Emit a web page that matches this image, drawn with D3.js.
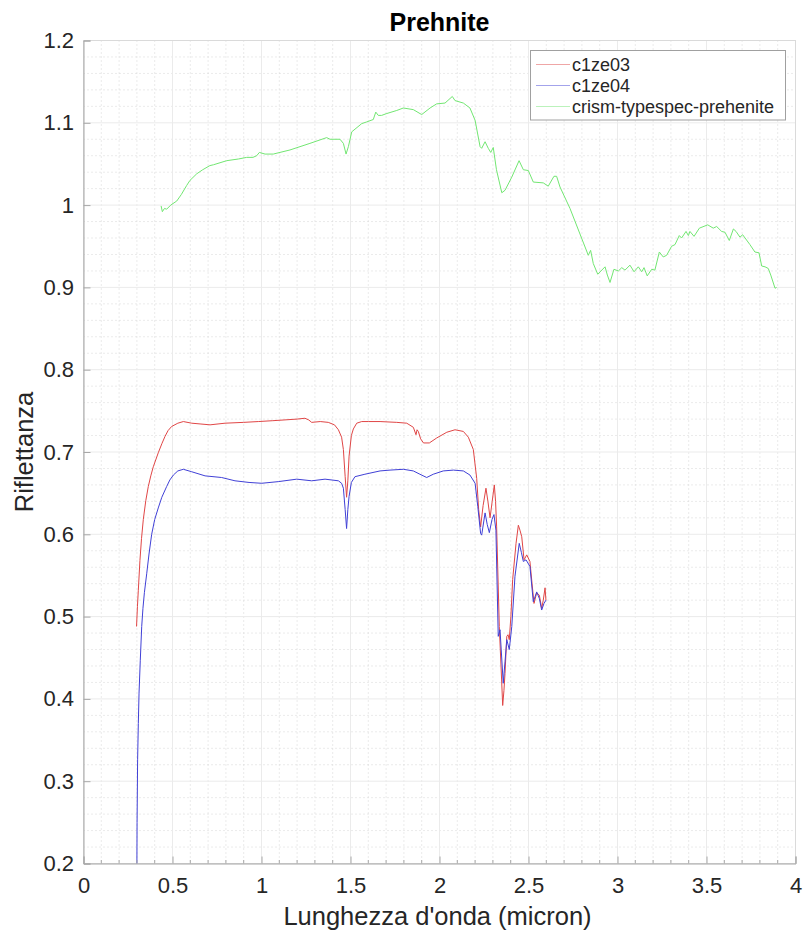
<!DOCTYPE html>
<html>
<head>
<meta charset="utf-8">
<script src="https://cdn.jsdelivr.net/npm/d3@7"></script>
<style>
  body { margin: 0; background: #fff; }
  svg { display: block; font-family: "Liberation Sans", Arial, Helvetica, sans-serif; }
</style>
</head>
<body>
<svg id="chart" width="806" height="935"></svg>
<script>
//// DATA (wavelength in micron, reflectance)

const c1ze03 = [
  [0.298,0.488],[0.303,0.512],[0.308,0.532],[0.317,0.568],[0.326,0.595],[0.336,0.618],[0.35,0.641],
  [0.364,0.658],[0.378,0.671],[0.392,0.682],[0.42,0.699],[0.44,0.710],
  [0.458,0.719],[0.475,0.726],[0.495,0.731],[0.53,0.735],[0.561,0.737],[0.608,0.735],[0.66,0.734],[0.711,0.733],
  [0.795,0.735],[0.9,0.736],[0.982,0.737],[1.06,0.738],[1.132,0.739],[1.2,0.740],[1.244,0.741],
  [1.265,0.739],[1.282,0.736],[1.33,0.737],[1.375,0.736],[1.41,0.733],[1.432,0.727],[1.45,0.718],
  [1.46,0.703],[1.47,0.67],[1.478,0.645],[1.485,0.665],[1.492,0.695],[1.505,0.72],[1.516,0.728],
  [1.535,0.735],[1.563,0.737],[1.6,0.737],[1.666,0.737],[1.76,0.736],[1.816,0.735],[1.853,0.730],
  [1.868,0.721],[1.874,0.727],[1.881,0.725],[1.894,0.716],[1.91,0.711],[1.943,0.711],[1.984,0.717],
  [2.041,0.724],[2.087,0.727],[2.134,0.725],[2.162,0.718],[2.19,0.703],[2.209,0.668],[2.22,0.63],
  [2.231,0.609],[2.245,0.635],[2.261,0.656],[2.272,0.64],[2.284,0.620],[2.296,0.64],[2.308,0.660],
  [2.315,0.64],[2.321,0.609],[2.336,0.488],[2.349,0.423],[2.355,0.392],[2.362,0.41],[2.368,0.431],
  [2.378,0.476],[2.385,0.478],[2.392,0.472],[2.401,0.50],[2.411,0.545],[2.43,0.589],[2.443,0.611],
  [2.452,0.605],[2.462,0.597],[2.475,0.569],[2.49,0.575],[2.508,0.567],[2.52,0.54],[2.531,0.516],
  [2.546,0.529],[2.561,0.526],[2.574,0.51],[2.583,0.52],[2.593,0.535],[2.598,0.52]
]

const c1ze04 = [
  [0.299,0.15],[0.301,0.25],[0.304,0.326],[0.308,0.37],[0.312,0.407],[0.319,0.447],[0.327,0.488],
  [0.334,0.51],[0.342,0.529],[0.355,0.552],[0.368,0.576],[0.383,0.600],[0.40,0.618],[0.42,0.632],
  [0.44,0.645],[0.467,0.658],[0.485,0.666],[0.505,0.672],[0.53,0.677],[0.561,0.679],[0.608,0.676],[0.683,0.671],
  [0.776,0.669],[0.851,0.665],[0.93,0.663],[1.001,0.662],[1.094,0.664],[1.198,0.667],[1.282,0.665],
  [1.357,0.667],[1.432,0.665],[1.45,0.662],[1.46,0.656],[1.47,0.63],[1.478,0.607],[1.485,0.63],
  [1.492,0.646],[1.505,0.663],[1.525,0.670],[1.581,0.673],[1.666,0.677],[1.722,0.678],[1.797,0.679],
  [1.853,0.677],[1.890,0.673],[1.928,0.669],[1.965,0.673],[2.021,0.677],[2.078,0.678],[2.134,0.677],
  [2.171,0.672],[2.2,0.662],[2.215,0.634],[2.231,0.601],[2.237,0.599],[2.256,0.626],[2.268,0.612],
  [2.28,0.602],[2.295,0.618],[2.306,0.624],[2.317,0.605],[2.33,0.476],[2.34,0.484],[2.358,0.419],
  [2.368,0.445],[2.378,0.472],[2.392,0.46],[2.406,0.488],[2.424,0.549],[2.448,0.589],[2.46,0.578],
  [2.471,0.567],[2.486,0.569],[2.508,0.561],[2.527,0.518],[2.546,0.530],[2.561,0.522],[2.574,0.508],
  [2.587,0.516],[2.598,0.52]
]

const crismPrehenite = [
  [0.436,0.999],[0.443,0.992],[0.455,0.996],[0.467,0.995],[0.49,1.0],[0.524,1.005],[0.55,1.013],
  [0.58,1.024],[0.598,1.03],[0.636,1.038],[0.67,1.043],[0.71,1.048],[0.73,1.049],[0.805,1.054],
  [0.87,1.056],[0.917,1.058],[0.952,1.058],[0.973,1.06],[0.988,1.064],[1.02,1.062],[1.066,1.062],
  [1.16,1.067],[1.272,1.075],[1.366,1.082],[1.385,1.080],[1.441,1.08],[1.46,1.075],[1.475,1.062],
  [1.488,1.071],[1.507,1.089],[1.563,1.099],[1.59,1.101],[1.628,1.104],[1.642,1.113],[1.656,1.109],
  [1.675,1.109],[1.70,1.111],[1.76,1.115],[1.797,1.118],[1.853,1.116],[1.90,1.110],[1.947,1.118],
  [1.984,1.123],[2.031,1.124],[2.072,1.132],[2.087,1.127],[2.134,1.124],[2.171,1.118],[2.2,1.103],
  [2.228,1.071],[2.237,1.069],[2.256,1.077],[2.274,1.069],[2.288,1.064],[2.302,1.07],[2.32,1.043],
  [2.35,1.015],[2.368,1.018],[2.406,1.034],[2.447,1.054],[2.471,1.043],[2.499,1.042],[2.527,1.028],
  [2.583,1.027],[2.611,1.023],[2.643,1.035],[2.658,1.035],[2.677,1.022],[2.733,0.996],[2.836,0.939],
  [2.849,0.945],[2.864,0.929],[2.889,0.916],[2.93,0.925],[2.943,0.915],[2.958,0.906],[2.98,0.922],
  [3.005,0.920],[3.024,0.924],[3.042,0.921],[3.07,0.927],[3.093,0.919],[3.117,0.925],[3.136,0.919],
  [3.149,0.924],[3.167,0.914],[3.192,0.922],[3.21,0.921],[3.235,0.943],[3.257,0.937],[3.276,0.939],
  [3.304,0.950],[3.323,0.952],[3.347,0.963],[3.36,0.960],[3.385,0.968],[3.398,0.963],[3.407,0.968],
  [3.43,0.962],[3.46,0.972],[3.507,0.976],[3.538,0.972],[3.557,0.974],[3.585,0.968],[3.604,0.967],
  [3.628,0.957],[3.651,0.971],[3.666,0.968],[3.688,0.961],[3.703,0.964],[3.744,0.952],[3.772,0.943],
  [3.795,0.942],[3.81,0.926],[3.829,0.925],[3.847,0.923],[3.861,0.915],[3.885,0.899],[3.894,0.900]
]

const seriesNames = ["c1ze03", "c1ze04", "crism-typespec-prehenite"]
const seriesColors = ["#e04646", "#4040d6", "#72e672"]
const seriesData = [c1ze03, c1ze04, crismPrehenite]

const xTicks = [0, 0.5, 1, 1.5, 2, 2.5, 3, 3.5, 4]
const yTicks = [0.2, 0.3, 0.4, 0.5, 0.6, 0.7, 0.8, 0.9, 1, 1.1, 1.2]

//// LAYOUT

const svg = d3.select("#chart")
const plotLeft = 83.5, plotRight = 795.5, plotTop = 40.5, plotBottom = 863.5
const textColor = "#262626"

const x = d3.scaleLinear().domain([0, 4]).range([plotLeft, plotRight])
const y = d3.scaleLinear().domain([0.2, 1.2]).range([plotBottom, plotTop])

const fmt = d => String(+d.toFixed(2))

// minor grid (dotted)
const xMinor = d3.range(0, 41).map(i => +(i / 10).toFixed(1)).filter(v => !xTicks.includes(v))
const yMinor = d3.range(10, 61).map(i => +(i * 0.02).toFixed(2)).filter(v => !yTicks.some(t => Math.abs(t - v) < 1e-6))

const grid = svg.append("g")
grid.selectAll(".xminor").data(xMinor).join("line")
  .attr("x1", d => x(d)).attr("x2", d => x(d))
  .attr("y1", plotTop).attr("y2", plotBottom)
  .attr("stroke", "#d6d6d6").attr("stroke-dasharray", "1,3")
grid.selectAll(".yminor").data(yMinor).join("line")
  .attr("x1", plotLeft).attr("x2", plotRight)
  .attr("y1", d => y(d)).attr("y2", d => y(d))
  .attr("stroke", "#d6d6d6").attr("stroke-dasharray", "1,3")

// major grid (solid)
grid.selectAll(".xmajor").data(xTicks).join("line")
  .attr("x1", d => x(d)).attr("x2", d => x(d))
  .attr("y1", plotTop).attr("y2", plotBottom)
  .attr("stroke", "#ebebeb")
grid.selectAll(".ymajor").data(yTicks).join("line")
  .attr("x1", plotLeft).attr("x2", plotRight)
  .attr("y1", d => y(d)).attr("y2", d => y(d))
  .attr("stroke", "#ebebeb")

// light box round the plot
svg.append("rect")
  .attr("x", plotLeft).attr("y", plotTop)
  .attr("width", plotRight - plotLeft).attr("height", plotBottom - plotTop)
  .attr("fill", "none").attr("stroke", "#dadada")

//// CURVES

svg.append("clipPath").attr("id", "plot-clip")
  .append("rect")
  .attr("x", plotLeft).attr("y", plotTop)
  .attr("width", plotRight - plotLeft).attr("height", plotBottom - plotTop)

const line = d3.line().x(d => x(d[0])).y(d => y(d[1]))

svg.append("g")
  .attr("clip-path", "url(#plot-clip)")
  .selectAll(".curve")
  .data(seriesData)
  .join("path")
  .attr("class", "curve")
  .attr("d", line)
  .attr("fill", "none")
  .attr("stroke", (d, i) => seriesColors[i])
  .attr("stroke-width", 1)
  .attr("stroke-linejoin", "round")

//// AXES

// minor ticks on x (inward)
svg.append("g")
  .selectAll(".xmt").data(xMinor).join("line")
  .attr("x1", d => x(d)).attr("x2", d => x(d))
  .attr("y1", plotBottom).attr("y2", plotBottom - 3.5)
  .attr("stroke", "#a8a8a8")

const xAxis = svg.append("g")
  .attr("transform", `translate(0,${plotBottom})`)
  .call(d3.axisBottom(x).tickValues(xTicks).tickFormat(fmt).tickSize(-7).tickPadding(14))
const yAxis = svg.append("g")
  .attr("transform", `translate(${plotLeft},0)`)
  .call(d3.axisLeft(y).tickValues(yTicks).tickFormat(fmt).tickSize(-7).tickPadding(9.5))

for (const ax of [xAxis, yAxis]) {
  ax.select(".domain").attr("stroke", "#a8a8a8")
  ax.selectAll(".tick line").attr("stroke", "#a8a8a8")
  ax.selectAll(".tick text")
    .attr("fill", textColor)
    .style("font-size", "22px")
    .style("font-family", "Liberation Sans, Arial, sans-serif")
}

//// LABELS

svg.append("text")
  .attr("x", (plotLeft + plotRight) / 2).attr("y", 31)
  .attr("text-anchor", "middle")
  .attr("fill", "#000")
  .style("font-size", "25px").style("font-weight", "bold")
  .text("Prehnite")

svg.append("text")
  .attr("x", (plotLeft + plotRight) / 2 - 2).attr("y", 925)
  .attr("text-anchor", "middle")
  .attr("fill", textColor)
  .style("font-size", "25.5px")
  .text("Lunghezza d'onda (micron)")

svg.append("text")
  .attr("transform", `translate(33,${(plotTop + plotBottom) / 2}) rotate(-90)`)
  .attr("text-anchor", "middle")
  .attr("fill", textColor)
  .style("font-size", "25.5px")
  .text("Riflettanza")

//// LEGEND

const legend = svg.append("g")
legend.append("rect")
  .attr("x", 530.5).attr("y", 50.5)
  .attr("width", 255).attr("height", 69.5)
  .attr("fill", "#fff").attr("stroke", "#a0a0a0")

const rows = legend.selectAll(".row")
  .data(seriesNames)
  .join("g")
  .attr("class", "row")
  .attr("transform", (d, i) => `translate(0,${64.5 + i * 21})`)
rows.append("line")
  .attr("x1", 536).attr("x2", 570)
  .attr("stroke", (d, i) => seriesColors[i])
  .attr("stroke-width", 0.8)
  .attr("opacity", 0.6)
rows.append("text")
  .attr("x", 572).attr("dy", "0.35em")
  .attr("fill", textColor)
  .style("font-size", "18px")
  .text(d => d)
</script>
</body>
</html>
